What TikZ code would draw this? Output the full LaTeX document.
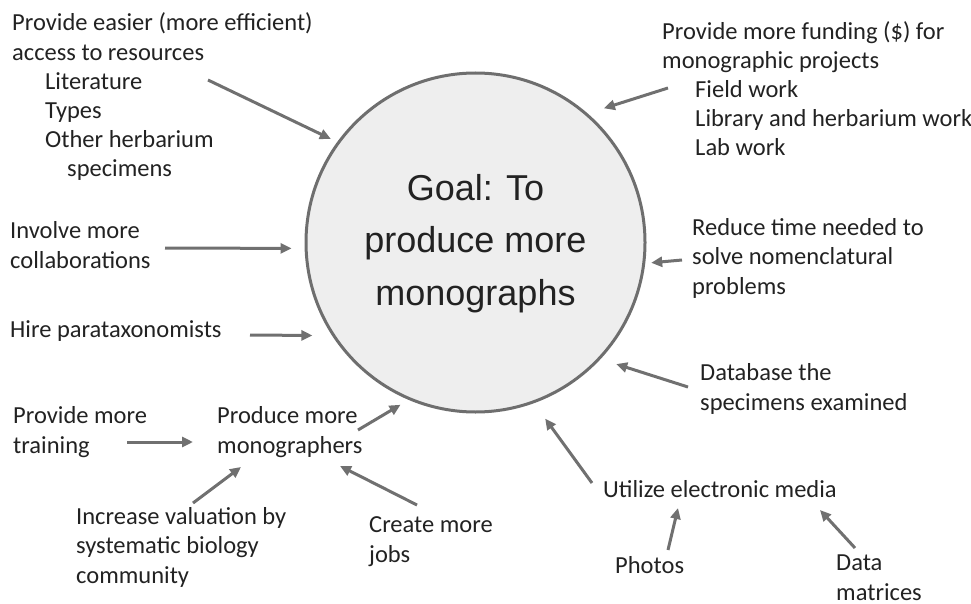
\documentclass[tikz,border=0pt]{standalone}
\usepackage{fontspec}
\setmainfont{Carlito}
\newfontfamily\goalfont{Liberation Sans}
\usetikzlibrary{arrows.meta}
\definecolor{txt}{HTML}{222222}
\definecolor{arr}{HTML}{707070}
\definecolor{cfill}{HTML}{EEEEEE}
\definecolor{cline}{HTML}{6E6E6E}
\tikzset{
  lbl/.style={anchor=base west, inner sep=0pt, align=left, text=txt,
    font=\fontsize{24.5}{29.2}\selectfont},
  conn/.style={draw=arr, line width=3pt, -{Triangle[length=11pt,width=10pt]}},
}
\begin{document}
\begin{tikzpicture}[x=1pt,y=-1pt]
\useasboundingbox (0,0) rectangle (971,604);
% central goal
\node[circle, draw=cline, fill=cfill, line width=3pt, minimum size=339pt, inner sep=0pt] (goal) at (475.5,242.5) {};
\node[anchor=base, inner sep=0pt, align=center, text=txt,
  font=\goalfont\fontsize{36}{52.5}\selectfont] (goaltext) at (475.5,305) {Goal: To\\produce more\\monographs};

% labels (anchored at the baseline of their last line)
\node[lbl] (access) at (12,177) {Provide easier (more efficient)\\access to resources\\\hspace*{33pt}Literature\\\hspace*{33pt}Types\\\hspace*{33pt}Other herbarium\\\hspace*{55pt}specimens};
\node[lbl] (funding) at (662,156) {Provide more funding (\$) for\\monographic projects\\\hspace*{33pt}Field work\\\hspace*{33pt}Library and herbarium work\\\hspace*{33pt}Lab work};
\node[lbl] (involve) at (10,268) {Involve more\\collaborations};
\node[lbl] (hire) at (10,337) {Hire parataxonomists};
\node[lbl] (reduce) at (692,294) {Reduce time needed to\\solve nomenclatural\\problems};
\node[lbl] (database) at (700,410) {Database the\\specimens examined};
\node[lbl] (training) at (13,453) {Provide more\\training};
\node[lbl] (producers) at (217,453) {Produce more\\monographers};
\node[lbl] (valuation) at (76,583) {Increase valuation by\\systematic biology\\community};
\node[lbl] (jobs) at (369,562) {Create more\\jobs};
\node[lbl] (media) at (603,497) {Utilize electronic media};
\node[lbl] (photos) at (615,573) {Photos};
\node[lbl] (data) at (836,600) {Data\\matrices};

% arrow tails / heads near text
\coordinate (tAccess) at (208,80);
\coordinate (tFunding) at (668,88);
\coordinate (tInvolve) at (165,248);
\coordinate (tHire) at (250,335);
\coordinate (tReduce) at (682,260);
\coordinate (tDatabase) at (688,387);
\coordinate (tProducers) at (358,430);
\coordinate (tMedia) at (592,483);
\coordinate (tTraining) at (127,442);
\coordinate (hTraining) at (193,442);
\coordinate (tValuation) at (193,503);
\coordinate (hValuation) at (241,467);
\coordinate (tJobs) at (417,505);
\coordinate (hJobs) at (340,466);
\coordinate (tPhotos) at (668,550);
\coordinate (hPhotos) at (678,508);
\coordinate (tData) at (855,548);
\coordinate (hData) at (820,510);

% arrows into the goal
\draw[conn, shorten >=7pt] (tAccess) -- (goal.144.5);
\draw[conn, shorten >=17pt] (tFunding) -- (goal.49.4);
\draw[conn, shorten >=13pt] (tInvolve) -- (goal.182.8);
\draw[conn, shorten >=19.7pt] (tHire) -- (goal.213.2);
\draw[conn, shorten >=6pt] (tReduce) -- (goal.353.9);
\draw[conn, shorten >=16.4pt] (tDatabase) -- (goal.317);
\draw[conn, shorten >=9.5pt] (tProducers) -- (goal.247.6);
\draw[conn, shorten >=19pt] (tMedia) -- (goal.290.3);

% secondary arrows
\draw[conn] (tTraining) -- (hTraining);
\draw[conn] (tValuation) -- (hValuation);
\draw[conn] (tJobs) -- (hJobs);
\draw[conn] (tPhotos) -- (hPhotos);
\draw[conn] (tData) -- (hData);
\end{tikzpicture}
\end{document}
